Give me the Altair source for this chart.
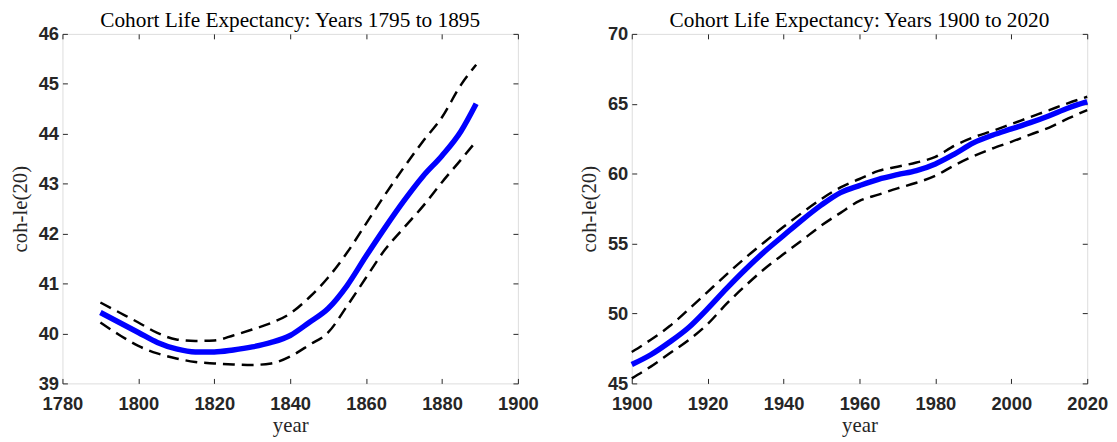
import altair as alt
import pandas as pd

# ---------------- data ----------------
years_a = [1790, 1795, 1800, 1805, 1810, 1815, 1820, 1825, 1830, 1835, 1840,
           1845, 1850, 1855, 1860, 1865, 1870, 1875, 1880, 1885, 1889]
mid_a = [40.42, 40.22, 40.02, 39.82, 39.69, 39.63, 39.63, 39.67, 39.73, 39.82, 39.96,
         40.22, 40.50, 40.96, 41.55, 42.12, 42.66, 43.15, 43.56, 44.05, 44.60]
upper_a = [40.62, 40.42, 40.22, 40.01, 39.88, 39.85, 39.86, 39.96, 40.08, 40.21, 40.40,
           40.72, 41.12, 41.62, 42.20, 42.78, 43.33, 43.85, 44.33, 44.98, 45.38]
lower_a = [40.22, 39.97, 39.75, 39.60, 39.50, 39.43, 39.40, 39.38, 39.37, 39.40, 39.54,
           39.77, 40.02, 40.55, 41.12, 41.68, 42.12, 42.55, 43.03, 43.48, 43.85]

years_b = [1900, 1905, 1910, 1915, 1920, 1925, 1930, 1935, 1940, 1945, 1950, 1955,
           1960, 1965, 1970, 1975, 1980, 1985, 1990, 1995, 2000, 2005, 2010, 2015, 2020]
mid_b = [46.35, 47.05, 47.96, 49.00, 50.35, 51.80, 53.17, 54.43, 55.58, 56.72, 57.77, 58.65,
         59.15, 59.60, 59.93, 60.22, 60.70, 61.40, 62.20, 62.75, 63.20, 63.65, 64.15, 64.70, 65.15]
upper_b = [47.25, 48.12, 49.10, 50.30, 51.55, 52.80, 54.00, 55.12, 56.20, 57.23, 58.20, 59.02,
           59.62, 60.20, 60.50, 60.80, 61.20, 62.00, 62.60, 63.05, 63.55, 64.05, 64.55, 65.05, 65.50]
lower_b = [45.36, 46.20, 47.15, 48.10, 49.25, 50.70, 52.00, 53.20, 54.25, 55.27, 56.30, 57.20,
           58.05, 58.50, 58.95, 59.35, 59.85, 60.60, 61.25, 61.80, 62.28, 62.80, 63.30, 63.95, 64.55]

title_a = "Cohort Life Expectancy: Years 1795 to 1895"
title_b = "Cohort Life Expectancy: Years 1900 to 2020"
xticks_a = [1780, 1800, 1820, 1840, 1860, 1880, 1900]
yticks_a = [39, 40, 41, 42, 43, 44, 45, 46]
xticks_b = [1900, 1920, 1940, 1960, 1980, 2000, 2020]
yticks_b = [45, 50, 55, 60, 65, 70]

W, H = 460, 353
AX = "#262626"
LABEL_FONT = "Liberation Sans"
SERIF = "Liberation Serif"


def panel(years, mid, upper, lower, title, xticks, yticks):
    df = pd.DataFrame({"year": years, "mid": mid, "upper": upper, "lower": lower})
    xs = alt.Scale(domain=[xticks[0], xticks[-1]], nice=False, zero=False)
    ys = alt.Scale(domain=[yticks[0], yticks[-1]], nice=False, zero=False)
    base = alt.Chart(df)

    tick_common = dict(labels=False, title=None, domain=False, ticks=True,
                       tickSize=5, tickColor=AX, tickWidth=1, grid=False)
    label_common = dict(ticks=False, domain=False, grid=False,
                        labelFont=LABEL_FONT, labelFontSize=18.5, labelFontWeight="bold",
                        labelColor=AX, labelFlush=False, labelOverlap=False,
                        titleFont=SERIF, titleFontSize=21, titleFontWeight="normal",
                        titleColor=AX)

    mid_line = base.mark_line(color="#0000ff", strokeWidth=5.5, strokeCap="butt",
                              interpolate="monotone").encode(
        x=alt.X("year:Q", scale=xs,
                axis=alt.Axis(orient="bottom", values=xticks, format="d", title="year",
                              labelPadding=11, titlePadding=2, **label_common)),
        y=alt.Y("mid:Q", scale=ys,
                axis=alt.Axis(orient="left", values=yticks, format="d", title="coh-le(20)",
                              labelPadding=4, titlePadding=8, **label_common)),
    )
    up_line = base.mark_line(color="black", strokeWidth=2.5, strokeDash=[12, 7],
                             interpolate="monotone").encode(
        x=alt.X("year:Q", scale=xs,
                axis=alt.Axis(orient="top", offset=-H, values=xticks, **tick_common)),
        y=alt.Y("upper:Q", scale=ys,
                axis=alt.Axis(orient="right", offset=-W, values=yticks, **tick_common)),
    )
    lo_line = base.mark_line(color="black", strokeWidth=2.5, strokeDash=[12, 7],
                             interpolate="monotone").encode(
        x=alt.X("year:Q", scale=xs,
                axis=alt.Axis(orient="bottom", offset=-H, values=xticks, **tick_common)),
        y=alt.Y("lower:Q", scale=ys,
                axis=alt.Axis(orient="left", offset=-W, values=yticks, **tick_common)),
    )
    return alt.layer(up_line, lo_line, mid_line).resolve_axis(
        x="independent", y="independent"
    ).properties(
        width=W, height=H,
        title=alt.TitleParams(title, font=SERIF, fontSize=21.5, fontWeight="normal",
                              color="black", offset=-7),
    )


left = panel(years_a, mid_a, upper_a, lower_a, title_a, xticks_a, yticks_a)
right = panel(years_b, mid_b, upper_b, lower_b, title_b, xticks_b, yticks_b)

chart = alt.hconcat(left, right, spacing=38).properties(
    padding={"left": 0, "top": 0, "right": 0, "bottom": 0}
).configure_view(stroke=AX, strokeWidth=1).configure(background="white")

chart.save("out.html", embed_options={"renderer": "svg", "actions": False})
